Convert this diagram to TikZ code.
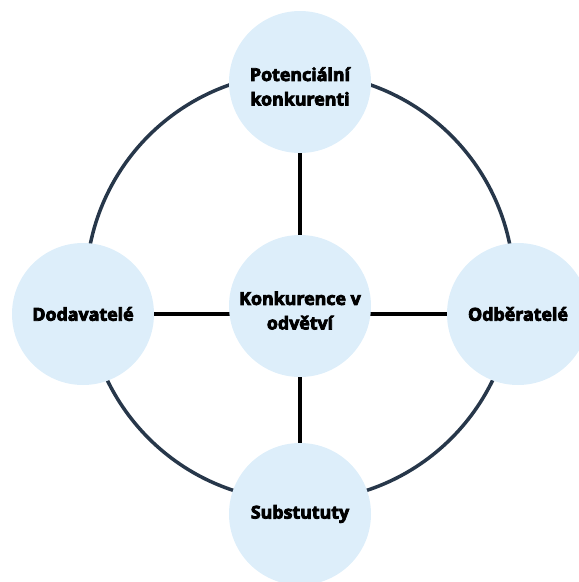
\documentclass[tikz,border=0pt]{standalone}
\usepackage{fontspec}
\setmainfont{Open Sans}[BoldFeatures={FakeBold=4.5}]
\usetikzlibrary{backgrounds}
\definecolor{bub}{HTML}{DDEEFA}
\definecolor{ringc}{HTML}{27374A}
\begin{document}
\begin{tikzpicture}[x=1pt,y=-1pt,
  bubble/.style={circle,fill=bub,minimum size=142pt,inner sep=0pt},
  btext/.style={align=center,inner sep=0pt,font=\bfseries\fontsize{17.8}{24.5}\selectfont},
  spoke/.style={draw=black,line width=4pt},
  rim/.style={draw=ringc,line width=3.5pt}]
\useasboundingbox (0,0) rectangle (579,582);
\node[bubble,label={[btext,name=topt,yshift=-4.5pt]center:{Potenciální\\konkurenti}}] (top) at (300,82) {};
\node[bubble,label={[btext,name=centert,yshift=-4.5pt]center:{Konkurence v\\odvětví}}] (center) at (300,306) {};
\node[bubble,label={[btext,name=leftt]center:{Dodavatelé}}] (left) at (83,314) {};
\node[bubble,label={[btext,name=rightt]center:{Odběratelé}}] (right) at (518,314) {};
\node[bubble,label={[btext,name=bottomt]center:{Substututy}}] (bottom) at (300,514) {};
\coordinate (ringc) at (300,287);
\begin{scope}[on background layer]
  \draw[rim] (ringc) circle[radius=214];
  \draw[spoke] (top) -- (center);
  \draw[spoke] (center) -- (bottom);
  \draw[spoke] (left) -- (left -| center);
  \draw[spoke] (right) -- (right -| center);
\end{scope}
\end{tikzpicture}
\end{document}
